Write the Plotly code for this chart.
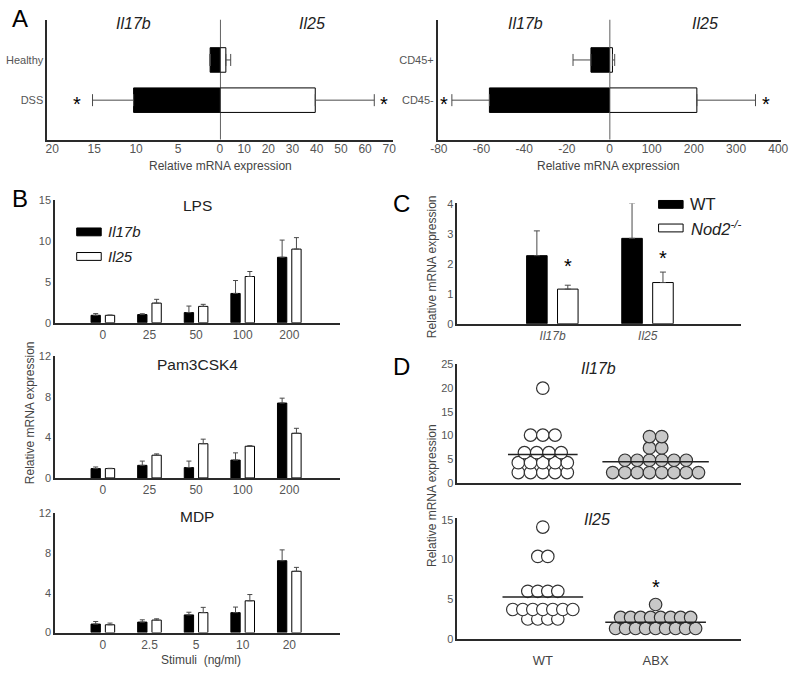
import plotly.graph_objects as go

# ---------------- data ----------------
# Panel A (left): colon tissue
a1_groups = ["Healthy", "DSS"]
a1_il17b = [1.17, 10.3]
a1_il17b_err = [0.0, 4.9]
a1_il25 = [2.44, 39.4]
a1_il25_err = [2.0, 24.4]
a1_sig = [False, True]

# Panel A (right): sorted cells
a2_groups = ["CD45+", "CD45-"]
a2_il17b = [-8.7, -56.3]
a2_il17b_err = [8.4, 17.6]
a2_il25 = [7.0, 207.0]
a2_il25_err = [5.3, 139.0]
a2_sig = [False, True]

# Panel B
lps_doses = ["0", "25", "50", "100", "200"]
lps_il17b = [0.91, 1.0, 1.24, 3.58, 8.0]
lps_il17b_err = [0.21, 0.1, 0.8, 1.58, 2.1]
lps_il25 = [0.91, 2.4, 2.0, 5.65, 9.0]
lps_il25_err = [0.03, 0.46, 0.25, 0.61, 1.4]

pam_doses = ["0", "25", "50", "100", "200"]
pam_il17b = [0.92, 1.24, 1.02, 1.76, 7.38]
pam_il17b_err = [0.16, 0.42, 0.64, 0.71, 0.48]
pam_il25 = [0.92, 2.24, 3.37, 3.12, 4.4]
pam_il25_err = [0.03, 0.13, 0.45, 0.06, 0.49]

mdp_doses = ["0", "2.5", "5", "10", "20"]
mdp_il17b = [0.86, 1.06, 1.78, 2.01, 7.23]
mdp_il17b_err = [0.26, 0.23, 0.27, 0.56, 1.09]
mdp_il25 = [0.79, 1.26, 2.01, 3.2, 6.17]
mdp_il25_err = [0.17, 0.13, 0.53, 0.63, 0.39]

# Panel C
c_genes = ["Il17b", "Il25"]
c_wt = [2.28, 2.86]
c_wt_err = [0.83, 1.18]
c_nod2 = [1.16, 1.38]
c_nod2_err = [0.13, 0.35]
c_sig = [True, True]

# Panel D
d_groups = ["WT", "ABX"]
d_il17b_wt = [2.2, 2.2, 2.2, 2.2, 2.2, 4.3, 4.3, 4.3, 4.3, 4.3,
              6.4, 6.4, 6.4, 6.4, 10.1, 10.1, 10.1, 20.0]
d_il17b_abx = [2.2, 2.2, 2.2, 2.2, 2.2, 2.2, 2.2, 2.2, 4.8, 4.8,
               4.8, 4.8, 4.8, 4.8, 7.4, 7.4, 9.8, 9.8]
d_il25_wt = [2.5, 2.5, 2.5, 2.5, 3.7, 3.7, 3.7, 3.7, 3.7, 3.7,
             3.7, 6.0, 6.0, 6.0, 6.0, 10.4, 10.4, 14.1]
d_il25_abx = [1.3, 1.3, 1.3, 1.3, 1.3, 1.3, 1.3, 1.3, 1.3, 2.7,
              2.7, 2.7, 2.7, 2.7, 2.7, 2.7, 2.7, 4.33]
d_il25_sig = [False, True]

# ---------------- helpers ----------------
W, H = 800, 673
FONT = 'Arial, "Liberation Sans", sans-serif'
ERR = '#4a4a4a'
AXIS = '#2a2a2a'
TICK = '#555555'


def px(x):
    return x / W


def py(y):
    return 1 - y / H


def err_plus(arr, w):
    return dict(type='data', array=arr, arrayminus=[0] * len(arr), symmetric=False,
                color=ERR, thickness=1, width=w)


def err_minus(arr, w):
    return dict(type='data', array=[0] * len(arr), arrayminus=arr, symmetric=False,
                color=ERR, thickness=1, width=w)


def note(x, y, text, size=12, color='#444', xanchor='center', angle=0):
    return dict(x=px(x), y=py(y), xref='paper', yref='paper', text=text, showarrow=False,
                xanchor=xanchor, yanchor='middle', textangle=angle,
                font=dict(size=size, color=color, family=FONT))


BLACK_M = dict(color='black', line=dict(color='black', width=1))
WHITE_M = dict(color='white', line=dict(color='black', width=1))

fig = go.Figure()
ann = []
shapes = []

# ---------------- Panel A ----------------
fig.add_trace(go.Bar(y=a1_groups, x=a1_il17b, orientation='h', xaxis='x', yaxis='y',
                     width=0.61, offset=-0.305, marker=BLACK_M,
                     error_x=err_plus(a1_il17b_err, 6), showlegend=False))
fig.add_trace(go.Bar(y=a1_groups, x=a1_il25, orientation='h', xaxis='x2', yaxis='y',
                     width=0.61, offset=-0.305, marker=WHITE_M,
                     error_x=err_plus(a1_il25_err, 6), showlegend=False))
fig.add_trace(go.Bar(y=a2_groups, x=a2_il17b, orientation='h', xaxis='x3', yaxis='y2',
                     width=0.61, offset=-0.305, marker=BLACK_M,
                     error_x=err_minus(a2_il17b_err, 6), showlegend=False))
fig.add_trace(go.Bar(y=a2_groups, x=a2_il25, orientation='h', xaxis='x4', yaxis='y2',
                     width=0.61, offset=-0.305, marker=WHITE_M,
                     error_x=err_plus(a2_il25_err, 6), showlegend=False))

STAR = dict(size=20, color='black', family=FONT)
for i, g in enumerate(a1_groups):
    if a1_sig[i]:
        ann.append(dict(x=a1_il17b[i] + a1_il17b_err[i], y=g, xref='x', yref='y', text='*',
                        showarrow=False, xanchor='center', yanchor='middle',
                        xshift=-16, yshift=-4, font=STAR))
        ann.append(dict(x=a1_il25[i] + a1_il25_err[i], y=g, xref='x2', yref='y', text='*',
                        showarrow=False, xanchor='center', yanchor='middle',
                        xshift=10, yshift=-4, font=STAR))
for i, g in enumerate(a2_groups):
    if a2_sig[i]:
        ann.append(dict(x=a2_il17b[i] - a2_il17b_err[i], y=g, xref='x3', yref='y2', text='*',
                        showarrow=False, xanchor='center', yanchor='middle',
                        xshift=-8, yshift=-4, font=STAR))
        ann.append(dict(x=a2_il25[i] + a2_il25_err[i], y=g, xref='x4', yref='y2', text='*',
                        showarrow=False, xanchor='center', yanchor='middle',
                        xshift=11, yshift=-4, font=STAR))

shapes.append(dict(type='line', xref='x2', yref='y domain', x0=0, x1=0, y0=0, y1=1,
                   line=dict(color=AXIS, width=1.5)))
shapes.append(dict(type='line', xref='x4', yref='y2 domain', x0=0, x1=0, y0=0, y1=1,
                   line=dict(color=AXIS, width=1.5)))

ann += [
    note(128, 18, '<i>Il17b</i>', 16, '#222'),
    note(310, 18, '<i>Il25</i>', 16, '#222'),
    note(527, 18, '<i>Il17b</i>', 16, '#222'),
    note(710, 18, '<i>Il25</i>', 16, '#222'),
    note(217, 163, 'Relative mRNA expression', 12),
    note(612, 163, 'Relative mRNA expression', 12),
]

# ---------------- Panel B ----------------
b_panels = [
    ('x5', 'y3', lps_doses, lps_il17b, lps_il17b_err, lps_il25, lps_il25_err, 'LPS', 203),
    ('x6', 'y4', pam_doses, pam_il17b, pam_il17b_err, pam_il25, pam_il25_err, 'Pam3CSK4', 365),
    ('x7', 'y5', mdp_doses, mdp_il17b, mdp_il17b_err, mdp_il25, mdp_il25_err, 'MDP', 520),
]
for xa, ya, cats, v1, e1, v2, e2, title, ty in b_panels:
    fig.add_trace(go.Bar(x=cats, y=v1, xaxis=xa, yaxis=ya, width=0.2, offset=-0.254,
                         marker=BLACK_M, error_y=err_plus(e1, 2.5), showlegend=False))
    fig.add_trace(go.Bar(x=cats, y=v2, xaxis=xa, yaxis=ya, width=0.2, offset=0.053,
                         marker=WHITE_M, error_y=err_plus(e2, 2.5), showlegend=False))
    ann.append(note(193, ty, title, 15.5, '#222'))

# legend of B
shapes.append(dict(type='rect', xref='paper', yref='paper', x0=px(70), x1=px(95), y0=py(234), y1=py(226),
                   fillcolor='black', line=dict(color='black', width=1)))
shapes.append(dict(type='rect', xref='paper', yref='paper', x0=px(70), x1=px(95), y0=py(259), y1=py(251),
                   fillcolor='white', line=dict(color='black', width=1)))
ann.append(note(100, 230, '<i>Il17b</i>', 15, '#222', xanchor='left'))
ann.append(note(100, 255, '<i>Il25</i>', 15, '#222', xanchor='left'))
ann.append(note(22, 414, 'Relative mRNA expression', 12, angle=-90))
ann.append(note(197, 666, 'Stimuli  (ng/ml)', 12))

# ---------------- Panel C ----------------
fig.add_trace(go.Bar(x=c_genes, y=c_wt, xaxis='x8', yaxis='y6', width=0.216, offset=-0.273,
                     marker=BLACK_M, error_y=err_plus(c_wt_err, 3), showlegend=False))
fig.add_trace(go.Bar(x=c_genes, y=c_nod2, xaxis='x8', yaxis='y6', width=0.216, offset=0.052,
                     marker=WHITE_M, error_y=err_plus(c_nod2_err, 3), showlegend=False))
c_star_shift = [14, 9]
for i, g in enumerate(c_genes):
    if c_sig[i]:
        ann.append(dict(x=i + 0.052 + 0.108, y=c_nod2[i] + c_nod2_err[i], xref='x8', yref='y6', text='*',
                        showarrow=False, xanchor='center', yanchor='middle',
                        yshift=c_star_shift[i] + 5, font=STAR))
shapes.append(dict(type='rect', xref='paper', yref='paper', x0=px(663), x1=px(688), y0=py(206), y1=py(198),
                   fillcolor='black', line=dict(color='black', width=1)))
shapes.append(dict(type='rect', xref='paper', yref='paper', x0=px(663), x1=px(688), y0=py(230), y1=py(222),
                   fillcolor='white', line=dict(color='black', width=1)))
ann.append(note(693, 202, 'WT', 16.5, '#222', xanchor='left'))
ann.append(note(694, 226, '<i>Nod2<sup>-/-</sup></i>', 16.5, '#222', xanchor='left'))
ann.append(note(432, 265, 'Relative mRNA expression', 12, angle=-90))

# ---------------- Panel D ----------------
D_STEP_TOP = 12.5 / 115
D_STEP_BOT = 10.2 / 115
D_RAD = 10.5 / 115


def swarm(values, center, step):
    rows = {}
    for v in values:
        rows.setdefault(v, []).append(v)
    xs, ys = [], []
    widest = 0
    for v in sorted(rows):
        n = len(rows[v])
        widest = max(widest, n)
        for i in range(n):
            xs.append(center + (i - (n - 1) / 2) * step)
            ys.append(v)
    return xs, ys, (widest - 1) / 2 * step


def add_swarm(values, gi, step, fill, xa, ya):
    xs, ys, half = swarm(values, gi, step)
    fig.add_trace(go.Scatter(x=xs, y=ys, mode='markers', xaxis=xa, yaxis=ya, showlegend=False,
                             marker=dict(size=12.5, color=fill, line=dict(color='#333', width=1.2))))
    m = sum(values) / len(values)
    hw = half + D_RAD
    fig.add_trace(go.Scatter(x=[gi - hw, gi + hw], y=[m, m], mode='lines', xaxis=xa, yaxis=ya,
                             showlegend=False, line=dict(color='#222', width=1.5)))


add_swarm(d_il17b_wt, 0, D_STEP_TOP, 'white', 'x9', 'y7')
add_swarm(d_il17b_abx, 1, D_STEP_TOP, '#c8c8c8', 'x9', 'y7')
add_swarm(d_il25_wt, 0, D_STEP_BOT, 'white', 'x10', 'y8')
add_swarm(d_il25_abx, 1, D_STEP_BOT, '#c8c8c8', 'x10', 'y8')

d_il25_sets = [d_il25_wt, d_il25_abx]
for i in range(len(d_groups)):
    if d_il25_sig[i]:
        ann.append(dict(x=i, y=max(d_il25_sets[i]), xref='x10', yref='y8', text='*', showarrow=False,
                        xanchor='center', yanchor='middle', yshift=18, font=STAR))

ann.append(note(602, 369, '<i>Il17b</i>', 16, '#222'))
ann.append(note(600, 523, '<i>Il25</i>', 16, '#222'))
ann.append(note(432, 498, 'Relative mRNA expression', 12, angle=-90))

# panel letters
for t, x, y in [('A', 12, 13), ('B', 12, 196), ('C', 401, 201), ('D', 401, 367)]:
    ann.append(note(x, y, t, 24, 'black'))

# ---------------- axes ----------------
base = dict(showline=True, linecolor=AXIS, linewidth=1.6, ticks='', showgrid=False, zeroline=False,
            tickfont=dict(size=11, color=TICK, family=FONT), fixedrange=True)
xt = dict(base, tickfont=dict(size=12, color=TICK, family=FONT))
xa_a = dict(xt, ticklabelstandoff=-3)

layout_axes = dict(
    xaxis=dict(xa_a, domain=[px(40), px(216)], range=[20.6, 0], anchor='y',
               tickvals=[20, 15, 10, 5], ticktext=['20', '15', '10', '5']),
    xaxis2=dict(xa_a, domain=[px(216), px(392)], range=[0, 71.4], anchor='y',
                tickvals=[0, 10, 20, 30, 40, 50, 60, 70]),
    yaxis=dict(base, domain=[py(136), py(14)], anchor='x', type='category',
               categoryorder='array', categoryarray=a1_groups[::-1], range=[-0.98, 2.0]),
    xaxis3=dict(xa_a, domain=[px(438), px(613)], range=[-80.5, 0], anchor='y2',
                tickvals=[-80, -60, -40, -20], ticktext=['-80', '-60', '-40', '-20']),
    xaxis4=dict(xa_a, domain=[px(613), px(788)], range=[0, 407], anchor='y2',
                tickvals=[0, 100, 200, 300, 400]),
    yaxis2=dict(base, domain=[py(136), py(14)], anchor='x3', type='category',
                categoryorder='array', categoryarray=a2_groups[::-1], range=[-0.98, 2.0]),
    xaxis5=dict(xt, domain=[px(48), px(338)], anchor='y3', type='category', range=[-1.025, 5.08]),
    yaxis3=dict(base, domain=[py(322.5), py(197.5)], anchor='x5', range=[0, 15],
                tickvals=[0, 5, 10, 15]),
    xaxis6=dict(xt, domain=[px(48), px(338)], anchor='y4', type='category', range=[-1.025, 5.08]),
    yaxis4=dict(base, domain=[py(480.5), py(356.5)], anchor='x6', range=[0, 12],
                tickvals=[0, 4, 8, 12]),
    xaxis7=dict(xt, domain=[px(48), px(338)], anchor='y5', type='category', range=[-1.025, 5.08],
                ticklabelstandoff=0),
    yaxis5=dict(base, domain=[py(638), py(516.5)], anchor='x7', range=[0, 12],
                tickvals=[0, 4, 8, 12]),
    xaxis8=dict(xt, domain=[px(458), px(747)], anchor='y6', type='category', range=[-1.0, 1.98],
                tickmode='array', tickvals=c_genes, ticktext=['<i>%s</i>' % g for g in c_genes]),
    yaxis6=dict(base, domain=[py(323.5), py(201)], anchor='x8', range=[0, 4.03],
                tickvals=[0, 1, 2, 3, 4]),
    xaxis9=dict(xt, domain=[px(458), px(747)], anchor='y7', range=[-0.757, 1.757],
                showticklabels=False),
    yaxis7=dict(base, domain=[py(485.7), py(364)], anchor='x9', range=[0, 25.2],
                tickvals=[0, 5, 10, 15, 20, 25]),
    xaxis10=dict(base, domain=[px(458), px(747)], anchor='y8', range=[-0.757, 1.757],
                 tickvals=[0, 1], ticktext=d_groups, ticklabelstandoff=9,
                 tickfont=dict(size=13, color='#444', family=FONT)),
    yaxis8=dict(base, domain=[py(644.3), py(521.7)], anchor='x10', range=[0, 15.2],
                tickvals=[0, 5, 10, 15]),
)

fig.update_layout(
    width=W, height=H, autosize=False,
    margin=dict(l=0, r=0, t=0, b=0),
    paper_bgcolor='white', plot_bgcolor='white',
    font=dict(family=FONT, color='#444'),
    showlegend=False,
    annotations=ann, shapes=shapes,
    **layout_axes,
)

fig.write_html("out.html", config={'displayModeBar': False},
               post_script="document.body.style.margin='0px';document.body.style.padding='0px';")
